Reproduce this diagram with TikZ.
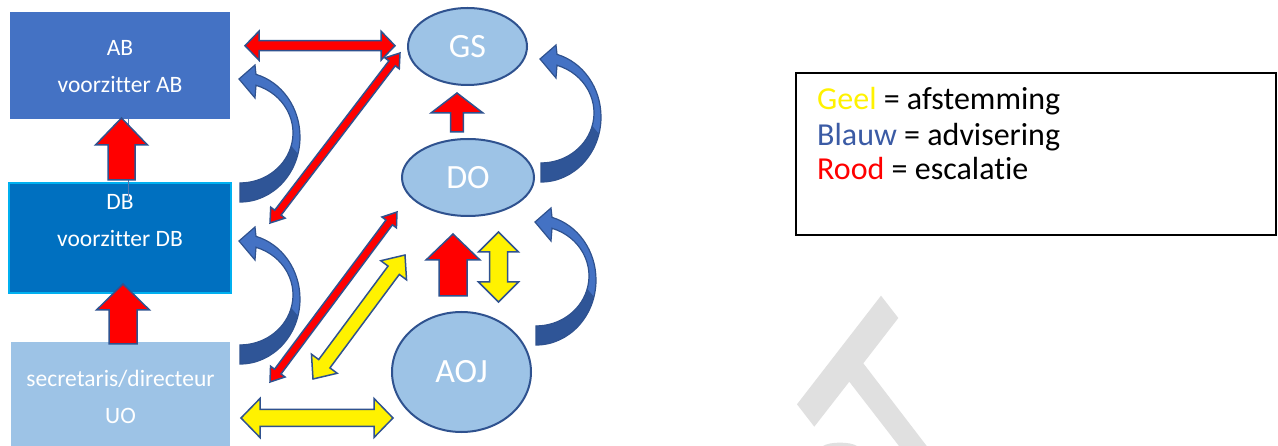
\documentclass[tikz,border=0pt]{standalone}
\usepackage{fontspec}
\setmainfont{Carlito}[Ligatures=NoCommon]
\usetikzlibrary{calc,shapes.geometric}
\definecolor{abblue}{HTML}{4472C4}
\definecolor{dbblue}{HTML}{0070C0}
\definecolor{dbedge}{HTML}{00B0F0}
\definecolor{lightblue}{HTML}{9DC3E6}
\definecolor{edgeblue}{HTML}{2F528F}
\definecolor{darkblue}{HTML}{2F5597}
\definecolor{legblue}{HTML}{3B5BA5}
\definecolor{wmgray}{HTML}{E0E0E0}
% double block arrow: style, end A, end B, shaft half width, head half width, head length
\newcommand\dblarrow[6]{%
  \path[#1] (#2) -- ($(#2)!#6!(#3)!#5!90:(#3)$) -- ($(#2)!#6!(#3)!#4!90:(#3)$)
    -- ($(#3)!#6!(#2)!#4!-90:(#2)$) -- ($(#3)!#6!(#2)!#5!-90:(#2)$) -- (#3)
    -- ($(#3)!#6!(#2)!#5!90:(#2)$) -- ($(#3)!#6!(#2)!#4!90:(#2)$)
    -- ($(#2)!#6!(#3)!#4!-90:(#3)$) -- ($(#2)!#6!(#3)!#5!-90:(#3)$) -- cycle;}
% single block arrow: style, tail, tip, shaft half width, head half width, head length
\newcommand\sglarrow[6]{%
  \path[#1] ($(#2)!#4!90:(#3)$) -- ($(#3)!#6!(#2)!#4!-90:(#2)$) -- ($(#3)!#6!(#2)!#5!-90:(#2)$)
    -- (#3) -- ($(#3)!#6!(#2)!#5!90:(#2)$) -- ($(#3)!#6!(#2)!#4!90:(#2)$)
    -- ($(#2)!#4!-90:(#3)$) -- cycle;}
\newcommand\curvepath{(240,202) arc[start angle=90, end angle=-74.53, x radius=60, y radius=65]
  -- (255,65) -- (239,79) -- (255,98) -- (256,85.3)
  arc[start angle=-72.43, end angle=90, x radius=53, y radius=50] -- cycle}
\newcommand\curvedarr[1]{%
  \begin{scope}[shift={#1}]
    \fill[abblue] \curvepath;
    \fill[darkblue] (297.96,153.82) arc[start angle=15, end angle=90, x radius=60, y radius=65]
      -- (240,183) arc[start angle=90, end angle=15, x radius=53, y radius=50] -- cycle;
    \draw[edgeblue, line width=1.2pt, line join=miter] \curvepath;
  \end{scope}}
\begin{document}
\begin{tikzpicture}[x=1pt, y=-1pt,
  abbox/.style={fill=abblue, inner sep=0pt, outer sep=0pt, minimum width=220pt, minimum height=107pt},
  dbbox/.style={fill=dbblue, draw=dbedge, line width=2pt, inner sep=0pt, outer sep=0pt, minimum width=222pt, minimum height=110pt},
  uobox/.style={fill=lightblue, inner sep=0pt, outer sep=0pt, minimum width=219pt, minimum height=108pt},
  boxtext/.style={text=white, align=center, inner sep=0pt, font=\fontsize{23.5}{37}\selectfont},
  ellnode/.style={ellipse, fill=lightblue, draw=edgeblue, line width=2pt, inner sep=0pt, text=white, font=\fontsize{34}{40}\selectfont},
  legendbox/.style={draw=black, line width=1.3pt, inner sep=0pt, minimum width=480pt, minimum height=162pt},
  legendtext/.style={anchor=base west, inner sep=0pt, font=\fontsize{32}{36}\selectfont},
  redarr/.style={fill=red, draw=edgeblue, line width=1.5pt, line join=miter},
  yelarr/.style={fill=yellow, draw=edgeblue, line width=1.5pt, line join=miter},
  thinline/.style={draw=abblue!70!gray, line width=0.8pt}]
\fill[white] (0,0) rectangle (1278,446);
\useasboundingbox (0,0) rectangle (1278,446);
% watermark
\fill[wmgray] (881,295.7) -- (898.3,318) -- (863.3,363.3) -- (926.7,446) -- (899,446)
  -- (849.3,381.7) -- (814.3,426.7) -- (797,404.3) -- cycle;
\fill[wmgray] (823,446) .. controls (830,441.5) and (850,441.5) .. (857,446) -- cycle;
% boxes
\node[abbox] (AB) at (120,65.5) {};
\node[dbbox] (DB) at (120,238) {};
\node[uobox] (UO) at (120.5,396) {};
\node[boxtext] (ABt) at (120,66.5) {AB\\voorzitter AB};
\node[boxtext] (DBt) at (120,220.5) {DB\\voorzitter DB};
\node[boxtext] (UOt) at (120.5,396.5) {secretaris/directeur\\UO};
% ellipses
\node[ellnode, minimum width=119pt, minimum height=77pt] (GS) at (467.5,46.5) {GS};
\node[ellnode, minimum width=132pt, minimum height=77pt] (DO) at (468,177.5) {DO};
\node[ellnode, minimum width=139pt, minimum height=120pt] (AOJ) at (461.5,372) {AOJ};
% legend
\node[legendbox] (leg) at (1036,154) {};
\node[legendtext] (leg1) at (817,110) {\textcolor{yellow}{Geel} = afstemming};
\node[legendtext] (leg2) at (817,146) {\textcolor{legblue}{Blauw} = advisering};
\node[legendtext] (leg3) at (817,180) {\textcolor{red}{Rood} = escalatie};
% thin line
\coordinate (tl1) at (128,119);
\coordinate (tl2) at (128,200);
\draw[thinline] (tl1) -- (tl2);
% arrow end points
\coordinate (h1a) at (245,45.7);  \coordinate (h1b) at (395,45.7);
\coordinate (d1a) at (270,223);   \coordinate (d1b) at (400,53);
\coordinate (d2a) at (270,382);   \coordinate (d2b) at (397,212);
\coordinate (y1a) at (313,379);   \coordinate (y1b) at (405,255);
\coordinate (h2a) at (241,418);   \coordinate (h2b) at (393,418);
\coordinate (u1a) at (121.5,180); \coordinate (u1b) at (121.5,118);
\coordinate (u2a) at (123,344);   \coordinate (u2b) at (123,284);
\coordinate (u3a) at (457,132);   \coordinate (u3b) at (457,93);
\coordinate (u4a) at (453,296);   \coordinate (u4b) at (453,234);
\coordinate (v1a) at (498.5,232); \coordinate (v1b) at (498.5,302);
% red arrows
\dblarrow{redarr}{h1a}{h1b}{5pt}{14.5pt}{14pt}
\dblarrow{redarr}{d1a}{d1b}{4pt}{9pt}{13pt}
\dblarrow{redarr}{d2a}{d2b}{4pt}{9pt}{13pt}
\sglarrow{redarr}{u1a}{u1b}{13.5pt}{26pt}{27pt}
\sglarrow{redarr}{u2a}{u2b}{14pt}{26.5pt}{26pt}
\sglarrow{redarr}{u3a}{u3b}{6.3pt}{26pt}{20pt}
\sglarrow{redarr}{u4a}{u4b}{14pt}{27pt}{26pt}
% yellow arrows
\dblarrow{yelarr}{y1a}{y1b}{7pt}{16pt}{19pt}
\dblarrow{yelarr}{h2a}{h2b}{8.5pt}{19.5pt}{19pt}
\dblarrow{yelarr}{v1a}{v1b}{9pt}{20pt}{20pt}
% curved blue arrows
\curvedarr{(0,0)}
\curvedarr{(0,162)}
\curvedarr{(301,-20)}
\curvedarr{(296,143)}
\end{tikzpicture}
\end{document}
